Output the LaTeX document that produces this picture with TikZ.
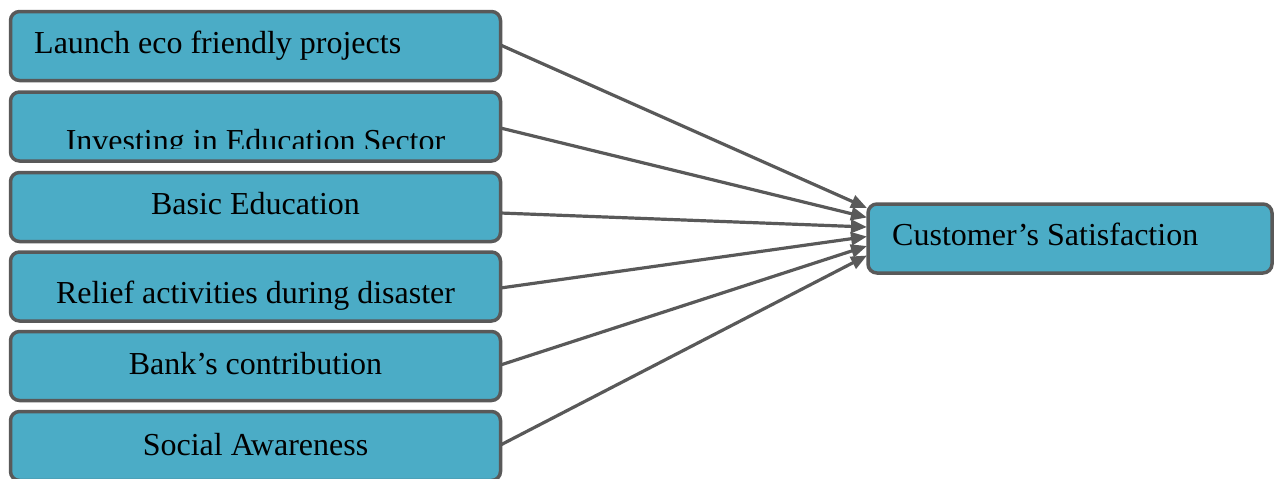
\documentclass[tikz,border=0pt]{standalone}
\usepackage{fontspec}
\setmainfont{Liberation Serif}
\usetikzlibrary{arrows.meta}
\definecolor{boxfill}{HTML}{4BACC6}
\definecolor{edge}{HTML}{595959}
\begin{document}
\begin{tikzpicture}[x=1pt,y=-1pt,
  box/.style={draw=edge,line width=3.5pt,fill=boxfill,rounded corners=9pt,
    minimum width=490pt,minimum height=69pt,inner sep=0pt,outer sep=0pt},
  rbox/.style={box,minimum width=404pt},
  lbl/.style={font=\fontsize{32}{38}\selectfont,inner sep=0pt},
  conn/.style={draw=edge,line width=3.2pt,-{Triangle[length=16pt,width=13pt]}}]
\useasboundingbox (0,0) rectangle (1274,479);
\node[box] (b1) at (255.5,46) {};
\node[box] (b2) at (255.5,126.5) {};
\node[box] (b3) at (255.5,207) {};
\node[box] (b4) at (255.5,286.5) {};
\node[box] (b5) at (255.5,366) {};
\node[box] (b6) at (255.5,446) {};
\node[rbox] (r) at (1070,238.5) {};
\node[lbl,anchor=base west] (t1) at (34,53) {Launch eco friendly projects};
\begin{scope}
\clip (12,113) rectangle (499,148);
\node[lbl,anchor=base] (t2) at (255.5,151) {Investing in Education Sector};
\end{scope}
\node[lbl,anchor=base] (t3) at (255.5,214) {Basic Education};
\node[lbl,anchor=base] (t4) at (255.5,303) {Relief activities during disaster};
\node[lbl,anchor=base] (t5) at (255.5,374) {Bank’s contribution};
\node[lbl,anchor=base] (t6) at (255.5,455) {Social Awareness};
\node[lbl,anchor=base west] (tr) at (892,245) {Customer’s Satisfaction};
\coordinate (e1) at (867,208);
\coordinate (e2) at (867,217.5);
\coordinate (e3) at (867,227);
\coordinate (e4) at (867,236.5);
\coordinate (e5) at (867,246);
\coordinate (e6) at (867,255.5);
\draw[conn] ([yshift=1pt]b1.east) -- (e1);
\draw[conn] ([yshift=-1.5pt]b2.east) -- (e2);
\draw[conn] ([yshift=-6pt]b3.east) -- (e3);
\draw[conn] ([yshift=-1.5pt]b4.east) -- (e4);
\draw[conn] ([yshift=1pt]b5.east) -- (e5);
\draw[conn] ([yshift=1pt]b6.east) -- (e6);
\end{tikzpicture}
\end{document}
